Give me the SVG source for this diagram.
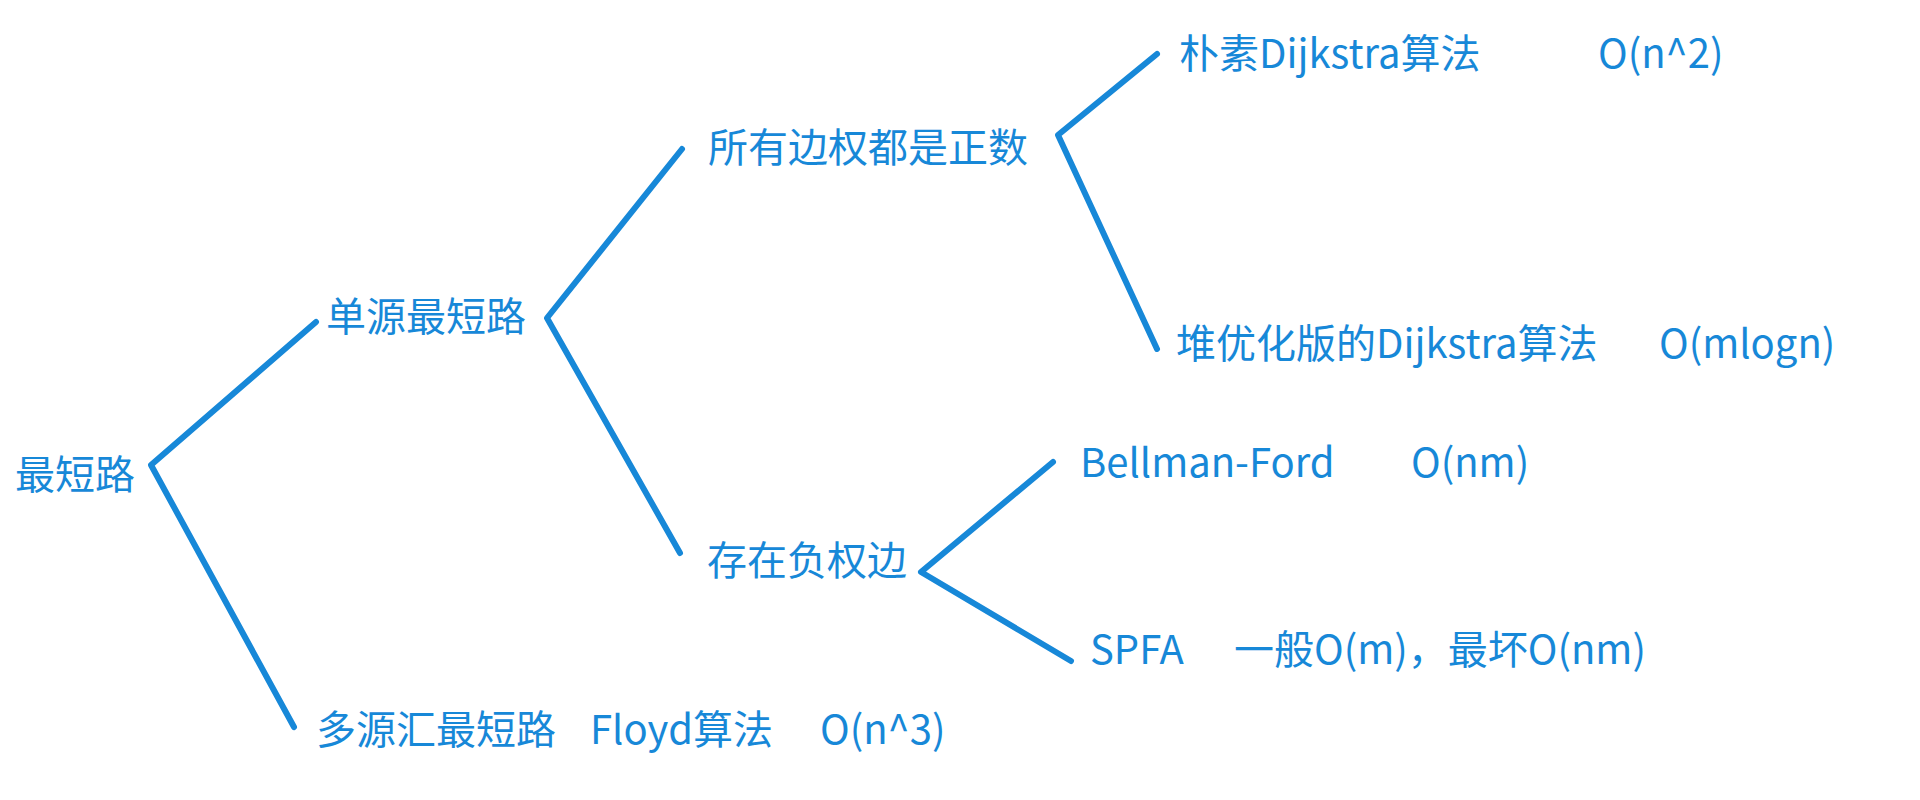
<svg xmlns="http://www.w3.org/2000/svg" width="1920" height="800" viewBox="0 0 1920 800">
<style>
.t{font-family:"Noto Sans CJK SC","Noto Sans",sans-serif;font-size:40px;fill:#1788d8}
.c{stroke:#1788d8;stroke-width:6;stroke-linecap:round;stroke-linejoin:round;fill:none}
</style>
<rect width="1920" height="800" fill="#ffffff"/>
<g id="connectors">
<polyline class="c" points="316,322 151,465 294,727"/>
<polyline class="c" points="682,149 547,318 680,553"/>
<polyline class="c" points="1157,54 1058,135 1157,349"/>
<polyline class="c" points="1053,462 921,572 1071,661"/>
</g>
<g id="n-root"><text class="t" x="15" y="489">最短路</text></g>
<g id="n-single"><text class="t" x="326" y="331">单源最短路</text></g>
<g id="n-positive"><text class="t" x="708" y="162">所有边权都是正数</text></g>
<g id="n-naive"><text class="t" x="1179" y="68">朴素Dijkstra算法</text><text class="t" x="1598" y="68">O(n^2)</text></g>
<g id="n-heap"><text class="t" x="1176" y="358">堆优化版的Dijkstra算法</text><text class="t" x="1659" y="358">O(mlogn)</text></g>
<g id="n-negative"><text class="t" x="707" y="575">存在负权边</text></g>
<g id="n-bellman"><text class="t" x="1080" y="477">Bellman-Ford</text><text class="t" x="1411" y="477">O(nm)</text></g>
<g id="n-spfa"><text class="t" x="1090" y="664">SPFA</text><text class="t" x="1234" y="664">一般O(m)，最坏O(nm)</text></g>
<g id="n-multi"><text class="t" x="316" y="744">多源汇最短路</text><text class="t" x="590" y="744">Floyd算法</text><text class="t" x="820" y="744">O(n^3)</text></g>
</svg>
